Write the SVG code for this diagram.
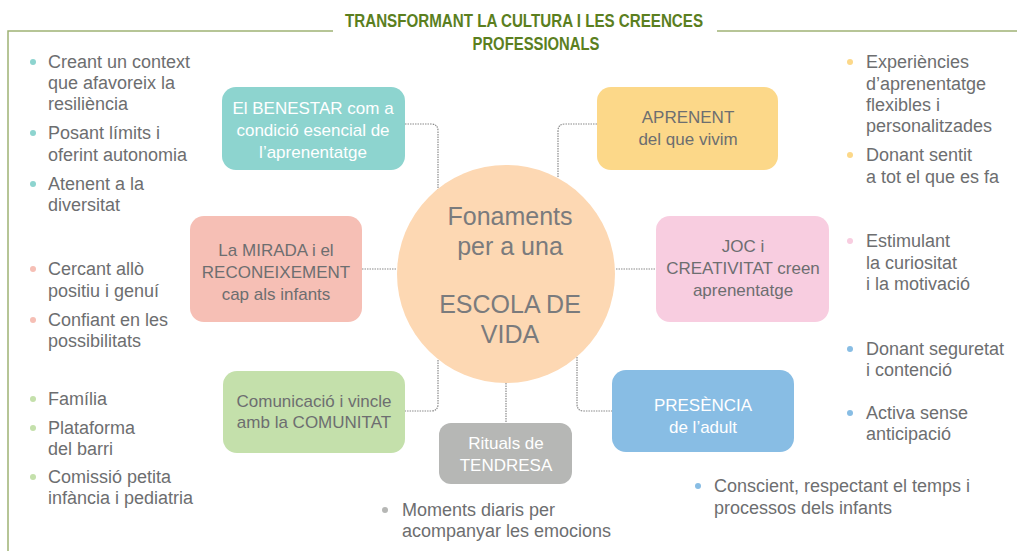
<svg xmlns="http://www.w3.org/2000/svg" width="1017" height="551" viewBox="0 0 1017 551">
<style>
.t{font-family:"Liberation Sans",Arial,sans-serif;font-size:18px;fill:#6d6e70}
.w{font-family:"Liberation Sans",Arial,sans-serif;font-size:17px;fill:#ffffff;text-anchor:middle}
.g{font-family:"Liberation Sans",Arial,sans-serif;font-size:17px;fill:#6d6e70;text-anchor:middle}
.c{font-family:"Liberation Sans",Arial,sans-serif;font-size:25px;fill:#7a7b7d;text-anchor:middle}
.ttl{font-family:"Liberation Sans",Arial,sans-serif;font-size:19px;font-weight:bold;fill:#5b7f1f;text-anchor:middle}
.con{fill:none;stroke:#8a8a8a;stroke-width:1.2;stroke-dasharray:1.5 1}
.frame{fill:none;stroke:#9fb274;stroke-width:1.5}
</style>
<rect width="1017" height="551" fill="#ffffff"/>
<g id="frame">
<polyline class="frame" points="333,31 8,31 8,551"/>
<line class="frame" x1="717" y1="31" x2="1017" y2="31"/>
<text class="ttl" x="524" y="27" textLength="358" lengthAdjust="spacingAndGlyphs">TRANSFORMANT LA CULTURA I LES CREENCES</text>
<text class="ttl" x="536" y="50" textLength="127" lengthAdjust="spacingAndGlyphs">PROFESSIONALS</text>
</g>
<g id="connectors">
<path class="con" d="M405,124 H431 Q438,124 438,131 V190"/>
<path class="con" d="M597,124 H565 Q558,124 558,131 V178"/>
<path class="con" d="M362,269 H397"/>
<path class="con" d="M616,269 H656"/>
<path class="con" d="M438,360 V404 Q438,411 431,411 H405"/>
<path class="con" d="M506,383 V423"/>
<path class="con" d="M577,357 V404 Q577,411 584,411 H612"/>
</g>
<g id="center">
<circle cx="506" cy="274" r="109" fill="#fdd8b3"/>
<text class="c" x="510" y="225">Fonaments</text>
<text class="c" x="510" y="255">per a una</text>
<text class="c" x="510" y="313">ESCOLA DE</text>
<text class="c" x="510" y="343">VIDA</text>
</g>
<g id="benestar">
<rect x="222" y="87" width="183" height="83" rx="14" fill="#8dd4cf"/>
<text class="w" x="313" y="114">El BENESTAR com a</text>
<text class="w" x="313" y="136">condició esencial de</text>
<text class="w" x="313" y="158">l’aprenentatge</text>
</g>
<g id="aprenent">
<rect x="597" y="87" width="181" height="83" rx="14" fill="#fcd889"/>
<text class="g" x="688" y="123">APRENENT</text>
<text class="g" x="688" y="145">del que vivim</text>
</g>
<g id="mirada">
<rect x="190" y="216" width="172" height="106" rx="14" fill="#f6bfb5"/>
<text class="g" x="276" y="256">La MIRADA i el</text>
<text class="g" x="276" y="278">RECONEIXEMENT</text>
<text class="g" x="276" y="300">cap als infants</text>
</g>
<g id="joc">
<rect x="656" y="216" width="173" height="106" rx="14" fill="#f8cde0"/>
<text class="g" x="743" y="252">JOC i</text>
<text class="g" x="743" y="274">CREATIVITAT creen</text>
<text class="g" x="743" y="296">aprenentatge</text>
</g>
<g id="comunicacio">
<rect x="223" y="371" width="182" height="82" rx="14" fill="#c4e0ab"/>
<text class="g" x="314" y="407">Comunicació i vincle</text>
<text class="g" x="314" y="428">amb la COMUNITAT</text>
</g>
<g id="presencia">
<rect x="612" y="370" width="182" height="82" rx="14" fill="#88bde4"/>
<text class="w" x="703" y="411">PRESÈNCIA</text>
<text class="w" x="703" y="433">de l’adult</text>
</g>
<g id="rituals">
<rect x="439" y="423" width="133" height="61" rx="12" fill="#b6b7b5"/>
<text class="w" x="506" y="449">Rituals de</text>
<text class="w" x="506" y="471">TENDRESA</text>
</g>
<g id="list-left">
<circle cx="33" cy="62" r="3" fill="#8dd4cf"/>
<text class="t" x="48" y="68">Creant un context</text>
<text class="t" x="48" y="89">que afavoreix la</text>
<text class="t" x="48" y="110">resiliència</text>
<circle cx="33" cy="133" r="3" fill="#8dd4cf"/>
<text class="t" x="48" y="139">Posant límits i</text>
<text class="t" x="48" y="161">oferint autonomia</text>
<circle cx="33" cy="184" r="3" fill="#8dd4cf"/>
<text class="t" x="48" y="190">Atenent a la</text>
<text class="t" x="48" y="211">diversitat</text>
<circle cx="33" cy="269" r="3" fill="#f6bfb5"/>
<text class="t" x="48" y="275">Cercant allò</text>
<text class="t" x="48" y="297">positiu i genuí</text>
<circle cx="33" cy="320" r="3" fill="#f6bfb5"/>
<text class="t" x="48" y="326">Confiant en les</text>
<text class="t" x="48" y="347">possibilitats</text>
<circle cx="33" cy="399" r="3" fill="#c4e0ab"/>
<text class="t" x="48" y="405">Família</text>
<circle cx="33" cy="428" r="3" fill="#c4e0ab"/>
<text class="t" x="48" y="434">Plataforma</text>
<text class="t" x="48" y="455">del barri</text>
<circle cx="33" cy="477" r="3" fill="#c4e0ab"/>
<text class="t" x="48" y="483">Comissió petita</text>
<text class="t" x="48" y="504">infància i pediatria</text>
</g>
<g id="list-right">
<circle cx="850" cy="62" r="3" fill="#fcd889"/>
<text class="t" x="866" y="68">Experiències</text>
<text class="t" x="866" y="90">d’aprenentatge</text>
<text class="t" x="866" y="111">flexibles i</text>
<text class="t" x="866" y="132">personalitzades</text>
<circle cx="850" cy="155" r="3" fill="#fcd889"/>
<text class="t" x="866" y="161">Donant sentit</text>
<text class="t" x="866" y="183">a tot el que es fa</text>
<circle cx="850" cy="241" r="3" fill="#f8cde0"/>
<text class="t" x="866" y="247">Estimulant</text>
<text class="t" x="866" y="269">la curiositat</text>
<text class="t" x="866" y="290">i la motivació</text>
<circle cx="850" cy="349" r="3" fill="#88bde4"/>
<text class="t" x="866" y="355">Donant seguretat</text>
<text class="t" x="866" y="376">i contenció</text>
<circle cx="850" cy="413" r="3" fill="#88bde4"/>
<text class="t" x="866" y="419">Activa sense</text>
<text class="t" x="866" y="440">anticipació</text>
</g>
<g id="list-bottom">
<circle cx="698" cy="486" r="3" fill="#88bde4"/>
<text class="t" x="714" y="492">Conscient, respectant el temps i</text>
<text class="t" x="714" y="514">processos dels infants</text>
<circle cx="385" cy="510" r="3" fill="#b6b7b5"/>
<text class="t" x="402" y="516">Moments diaris per</text>
<text class="t" x="402" y="537">acompanyar les emocions</text>
</g>
</svg>
